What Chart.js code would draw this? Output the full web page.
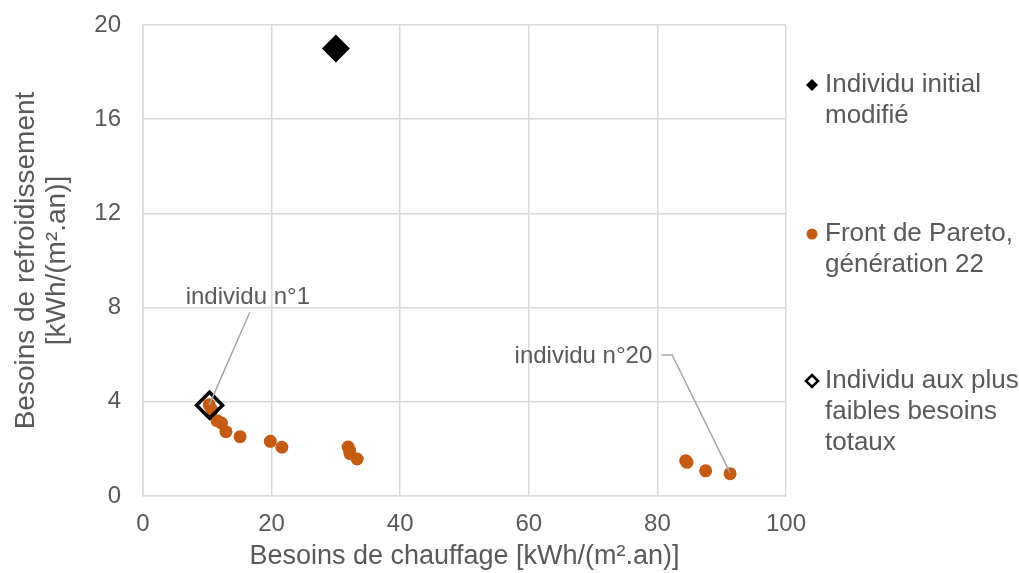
<!DOCTYPE html>
<html lang="fr">
<head>
  <meta charset="UTF-8">
  <title>Besoins de chauffage / refroidissement</title>
  <style>
    html, body { margin: 0; padding: 0; background: #ffffff; }
    #wrap { width: 1019px; height: 573px; position: relative; }
  </style>
</head>
<body>
  <div id="wrap"><canvas id="chart"></canvas></div>

  <script src="https://cdn.jsdelivr.net/npm/chart.js"></script>
  <script>
    // données
    const initialX = [30];
    const initialY = [19];

    const paretoX = [10.3, 10.7, 11.5, 12.2, 12.9, 15.1, 19.8, 21.6, 31.9, 32.1, 32.2, 33.3, 84.4, 84.6, 87.5, 91.3];
    const paretoY = [3.87, 3.65, 3.2, 3.1, 2.73, 2.52, 2.32, 2.07, 2.08, 1.95, 1.8, 1.57, 1.5, 1.43, 1.07, 0.95];

    const bestX = [10.35];
    const bestY = [3.85];

    const xTicks = [0, 20, 40, 60, 80, 100];
    const yTicks = [0, 4, 8, 12, 16, 20];

    const seriesNames = [
      ['Individu initial', 'modifié'],
      ['Front de Pareto,', 'génération 22'],
      ['Individu aux plus', 'faibles besoins', 'totaux']
    ];

    // étiquettes "individu n°..." : texte + ligne de rappel (en unités du graphique)
    const labelTexts = ['individu n°1', 'individu n°20'];
    const labelAt = [[16.3, 8.45], [79.2, 5.92]];
    const labelAlign = ['center', 'right'];
    const leaders = [
      [[16.6, 7.8], [10.3, 3.87]],
      [[80.6, 5.99], [82.3, 5.99], [91.3, 0.98]]
    ];

    const grey = '#595959';
    const gridCol = '#d9d9d9';
    const orange = '#c55a11';
    const font = '"Liberation Sans", Arial, sans-serif';

    const pts = (xs, ys) => xs.map((x, i) => ({ x: x, y: ys[i] }));

    const labelsPlugin = {
      id: 'labels',
      afterDatasetsDraw(chart) {
        const ctx = chart.ctx;
        const sx = chart.scales.x, sy = chart.scales.y;
        ctx.save();
        ctx.strokeStyle = '#a6a6a6';
        ctx.lineWidth = 1.5;
        leaders.forEach(line => {
          ctx.beginPath();
          line.forEach((p, i) => {
            const px = sx.getPixelForValue(p[0]), py = sy.getPixelForValue(p[1]);
            if (i === 0) ctx.moveTo(px, py); else ctx.lineTo(px, py);
          });
          ctx.stroke();
        });
        ctx.fillStyle = grey;
        ctx.font = '24px ' + font;
        ctx.textBaseline = 'middle';
        labelTexts.forEach((t, i) => {
          ctx.textAlign = labelAlign[i];
          ctx.fillText(t, sx.getPixelForValue(labelAt[i][0]), sy.getPixelForValue(labelAt[i][1]));
        });
        ctx.restore();
      }
    };

    // légende à droite, texte sur plusieurs lignes
    const legendPlugin = {
      id: 'sideLegend',
      afterDraw(chart) {
        const ctx = chart.ctx;
        const mx = 812, tx = 825, lh = 31;
        const rows = [85, 234, 381];
        ctx.save();
        ctx.font = '26px ' + font;
        ctx.fillStyle = grey;
        ctx.textBaseline = 'middle';
        ctx.textAlign = 'left';
        rows.forEach((y0, i) => {
          seriesNames[i].forEach((t, j) => ctx.fillText(t, tx, y0 + j * lh));
        });
        // marqueurs
        ctx.beginPath();
        ctx.moveTo(mx, rows[0] - 6); ctx.lineTo(mx + 6, rows[0]);
        ctx.lineTo(mx, rows[0] + 6); ctx.lineTo(mx - 6, rows[0]); ctx.closePath();
        ctx.fillStyle = '#000';
        ctx.fill();
        ctx.beginPath();
        ctx.arc(mx, rows[1], 5.5, 0, Math.PI * 2);
        ctx.fillStyle = orange;
        ctx.fill();
        ctx.beginPath();
        ctx.moveTo(mx, rows[2] - 6); ctx.lineTo(mx + 6, rows[2]);
        ctx.lineTo(mx, rows[2] + 6); ctx.lineTo(mx - 6, rows[2]); ctx.closePath();
        ctx.fillStyle = '#fff';
        ctx.fill();
        ctx.strokeStyle = '#000';
        ctx.lineWidth = 2.5;
        ctx.stroke();
        ctx.restore();
      }
    };

    new Chart(document.getElementById('chart'), {
      type: 'scatter',
      data: {
        datasets: [
          {
            label: seriesNames[0].join(' '),
            data: pts(initialX, initialY),
            pointStyle: 'rectRot',
            pointRadius: 14,
            backgroundColor: '#000',
            borderColor: '#000',
            borderWidth: 0,
            order: 2
          },
          {
            label: seriesNames[1].join(' '),
            data: pts(paretoX, paretoY),
            pointStyle: 'circle',
            pointRadius: 6.5,
            backgroundColor: orange,
            borderColor: orange,
            borderWidth: 0,
            order: 1
          },
          {
            label: seriesNames[2].join(' '),
            data: pts(bestX, bestY),
            pointStyle: 'rectRot',
            pointRadius: 13,
            backgroundColor: 'rgba(0,0,0,0)',
            borderColor: '#000',
            borderWidth: 3.5,
            order: 0
          }
        ]
      },
      options: {
        responsive: true,
        maintainAspectRatio: false,
        animation: false,
        layout: { padding: { top: 25, right: 233, left: 0, bottom: 0 } },
        plugins: {
          legend: { display: false },
          tooltip: { enabled: false }
        },
        scales: {
          x: {
            type: 'linear',
            min: 0,
            max: 100,
            afterFit: s => { s.height = 77; s.paddingLeft = 0; s.paddingRight = 0; },
            afterBuildTicks: s => { s.ticks = xTicks.map(v => ({ value: v })); },
            grid: { color: gridCol, lineWidth: 1.5, drawTicks: false },
            border: { color: gridCol, width: 1.5 },
            ticks: { color: grey, font: { family: font, size: 24 }, padding: 14, maxRotation: 0 },
            title: {
              display: true,
              text: 'Besoins de chauffage [kWh/(m².an)]',
              color: grey,
              font: { family: font, size: 27 },
              padding: { top: 0, bottom: 0 }
            }
          },
          y: {
            type: 'linear',
            min: 0,
            max: 20,
            afterFit: s => { s.width = 143; s.paddingTop = 0; s.paddingBottom = 0; },
            afterBuildTicks: s => { s.ticks = yTicks.map(v => ({ value: v })); },
            grid: { color: gridCol, lineWidth: 1.5, drawTicks: false },
            border: { color: gridCol, width: 1.5 },
            ticks: { color: grey, font: { family: font, size: 24 }, padding: 22 },
            title: {
              display: true,
              text: ['Besoins de refroidissement', '[kWh/(m².an)]'],
              color: grey,
              font: { family: font, size: 28, lineHeight: 1.1 },
              padding: { top: 11, bottom: 0 }
            }
          }
        }
      },
      plugins: [labelsPlugin, legendPlugin]
    });
  </script>
</body>
</html>
